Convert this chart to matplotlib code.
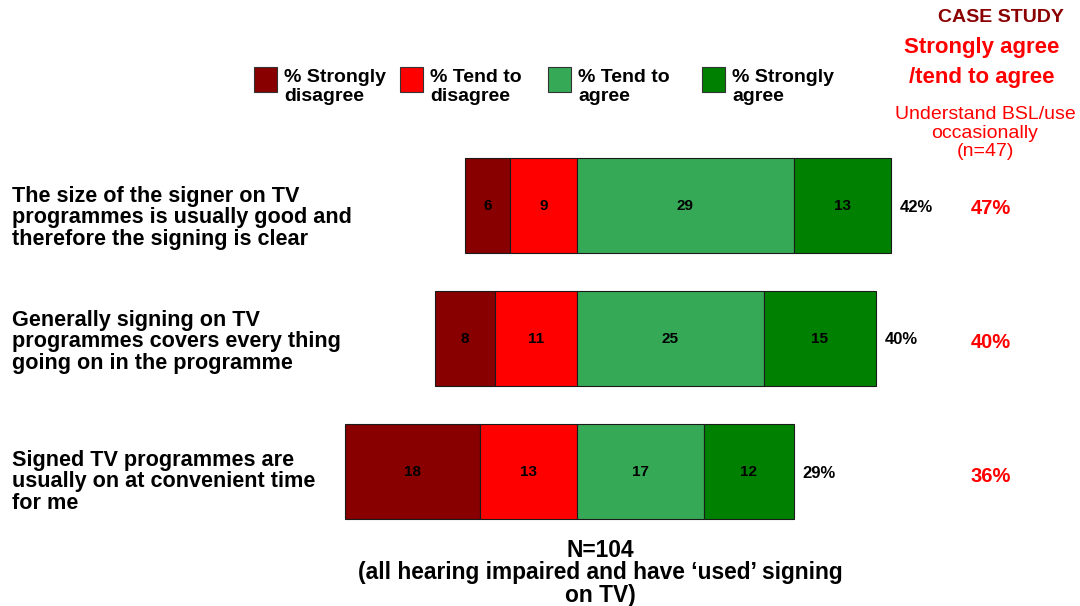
import matplotlib
matplotlib.use("Agg")
import matplotlib.pyplot as plt
from matplotlib.patches import Rectangle

plt.rcParams['font.family'] = ['Liberation Sans', 'DejaVu Sans']

statements = [
    "The size of the signer on TV\nprogrammes is usually good and\ntherefore the signing is clear",
    "Generally signing on TV\nprogrammes covers every thing\ngoing on in the programme",
    "Signed TV programmes are\nusually on at convenient time\nfor me",
]
strongly_disagree = [6, 8, 18]
tend_disagree = [9, 11, 13]
tend_agree = [29, 25, 17]
strongly_agree = [13, 15, 12]
case_study_pct = [47, 40, 36]

series_names = ["% Strongly\ndisagree", "% Tend to\ndisagree", "% Tend to\nagree", "% Strongly\nagree"]
colors = ["#880000", "#FF0000", "#36A957", "#008000"]

W, H = 1080, 606
fig = plt.figure(figsize=(W / 100, H / 100), dpi=100)
ax = fig.add_axes([0, 0, 1, 1])
# horizontal scale: value units around the disagree/agree split
ppu = 7.47
center_px = 577
ax.set_xlim(-center_px / ppu, (W - center_px) / ppu)
ax.set_ylim(H, 0)
ax.axis("off")


def px(x):
    return (x - center_px) / ppu


bar_y = [205, 338, 471]
bar_h = 95

for i, y in enumerate(bar_y):
    sd, td, ta, sa = strongly_disagree[i], tend_disagree[i], tend_agree[i], strongly_agree[i]
    segs = [(-(sd + td), sd), (-td, td), (0, ta), (ta, sa)]
    vals = [sd, td, ta, sa]
    for (left, width), c, v in zip(segs, colors, vals):
        ax.barh(y, width, left=left, height=bar_h, color=c, edgecolor="#1a1a1a", linewidth=0.8)
        ax.text(left + width / 2, y + 1, f"{v}", ha="center", va="center",
                fontsize=11, fontweight="bold", color="black")
    total = ta + sa
    ax.annotate(f"{total}%", xy=(ta + sa, y + 2), xytext=(6.5, 0), textcoords="offset points",
                ha="left", va="center", fontsize=12, fontweight="bold", color="black")
    ax.text(px(991), y + 3 + i * 1.5, f"{case_study_pct[i]}%", ha="center", va="center",
            fontsize=14.5, fontweight="bold", color="#FF0000")

label_y = [218, 342, 482]
for s, y in zip(statements, label_y):
    ax.text(px(12), y, s, ha="left", va="center", fontsize=15.6,
            fontweight="bold", color="black", linespacing=1.06)

# legend
leg_x = [254, 400, 548, 702]
for x, c, name in zip(leg_x, colors, series_names):
    ax.add_patch(Rectangle((px(x), 67), 23 / ppu, 25, facecolor=c,
                           edgecolor="#333333", linewidth=0.8))
    ax.text(px(x + 30), 87, name, ha="left", va="center", fontsize=14,
            fontweight="bold", color="black", linespacing=1.08)

# case study header
ax.text(px(1001), 17, "CASE STUDY", ha="center", va="center", fontsize=14, fontweight="bold", color="#8B0000")
ax.text(px(982), 48, "Strongly agree", ha="center", va="center", fontsize=16, fontweight="bold", color="#FF0000")
ax.text(px(982), 78, "/tend to agree", ha="center", va="center", fontsize=16, fontweight="bold", color="#FF0000")
ax.text(px(985), 133, "Understand BSL/use\noccasionally\n(n=47)", ha="center", va="center",
        fontsize=14, color="#FF0000", linespacing=1.15)

# base note
ax.text(px(600), 573, "N=104\n(all hearing impaired and have \u2018used\u2019 signing\non TV)",
        ha="center", va="center", fontsize=16.4, fontweight="bold", color="black", linespacing=0.99)

fig.savefig("out.png", dpi=100)
